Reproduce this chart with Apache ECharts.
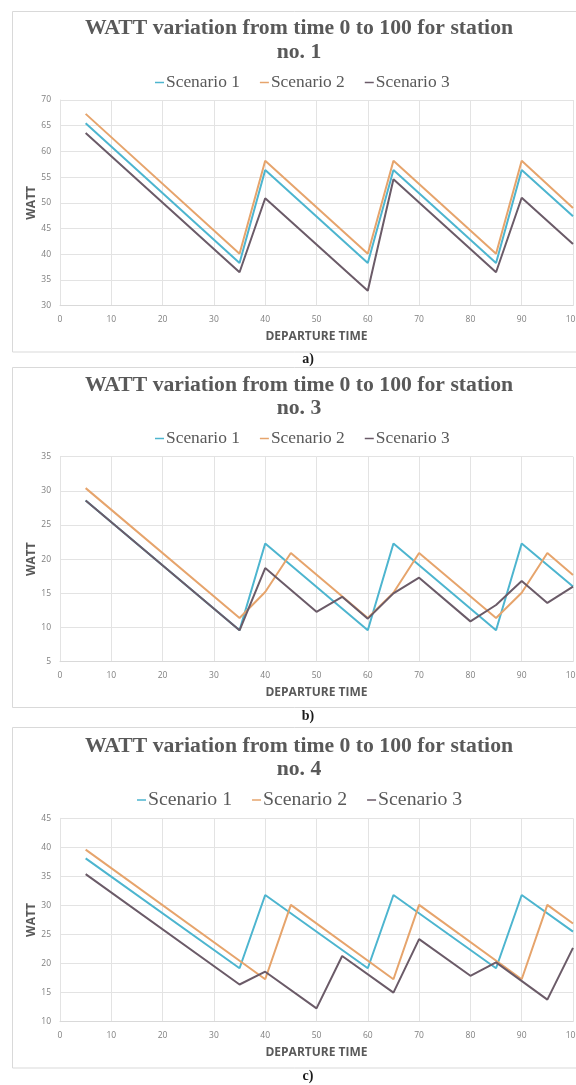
<!DOCTYPE html>
<html>
<head>
<meta charset="utf-8">
<script src="https://cdn.jsdelivr.net/npm/echarts@6/dist/echarts.min.js"></script>
<style>
html,body{margin:0;padding:0;background:#fff;}
#chart{width:576px;height:1085px;}
</style>
</head>
<body>
<div id="chart"></div>
<script>
// ---- Data (vertices of each polyline: departure time, WATT) ----
const seriesNames = ['Scenario 1', 'Scenario 2', 'Scenario 3'];
const panelTitles = ['WATT variation from time 0 to 100 for station', 'WATT variation from time 0 to 100 for station', 'WATT variation from time 0 to 100 for station'];
const panelSubtitles = ['no. 1', 'no. 3', 'no. 4'];
const panelCaptions = ['a)', 'b)', 'c)'];

// Station 1
const a1X = [5, 35, 40, 60, 65, 85, 90, 100];
const a1Y = [65.5, 38.3, 56.4, 38.3, 56.4, 38.3, 56.4, 47.4];
const a2X = [5, 35, 40, 60, 65, 85, 90, 100];
const a2Y = [67.3, 40.1, 58.2, 40.1, 58.2, 40.1, 58.2, 49.0];
const a3X = [5, 35, 40, 60, 65, 85, 90, 100];
const a3Y = [63.6, 36.5, 50.9, 32.9, 54.6, 36.5, 51.0, 42.0];

// Station 3
const b1X = [5, 35, 40, 60, 65, 85, 90, 100];
const b1Y = [28.6, 9.6, 22.3, 9.6, 22.3, 9.6, 22.3, 16.0];
const b2X = [5, 35, 40, 45, 60, 65, 70, 85, 90, 95, 100];
const b2Y = [30.4, 11.4, 15.2, 20.9, 11.4, 15.1, 20.9, 11.4, 15.1, 20.9, 17.7];
const b3X = [5, 35, 40, 50, 55, 60, 65, 70, 80, 85, 90, 95, 100];
const b3Y = [28.6, 9.6, 18.7, 12.3, 14.5, 11.3, 15.0, 17.3, 10.9, 13.3, 16.8, 13.6, 16.0];

// Station 4
const c1X = [5, 35, 40, 60, 65, 85, 90, 100];
const c1Y = [38.1, 19.2, 31.8, 19.2, 31.8, 19.2, 31.8, 25.5];
const c2X = [5, 40, 45, 65, 70, 90, 95, 100];
const c2Y = [39.6, 17.3, 30.1, 17.3, 30.1, 17.3, 30.1, 26.9];
const c3X = [5, 35, 40, 50, 55, 65, 70, 80, 85, 95, 100];
const c3Y = [35.4, 16.4, 18.6, 12.3, 21.3, 15.0, 24.2, 17.9, 20.2, 13.8, 22.7];

// Axis ranges
const xRange = {min: 0, max: 100, interval: 10};
const yRanges = [
  {min: 30, max: 70, interval: 5},
  {min: 5, max: 35, interval: 5},
  {min: 10, max: 45, interval: 5}
];

// ---- Styling / layout ----
const colors = ['#4db5cf', '#e6a46c', '#6b5b68'];
const gridTops = [100, 456.7, 818.3];
const gridHeights = [205.7, 205, 203.4];
const titleY = [[28.5, 52], [385, 408.5], [746, 769.5]];
const legendTops = [69, 425, 785];
const legendFont = [17.4, 17.4, 19.8];
const legendLeft = [150, 150, 132];
const boxes = [[12, 11, 351.5], [12, 367, 707], [12, 727, 1067.5]];
const captionY = [359.5, 716, 1076];

const pairs = (xs, ys) => xs.map((x, i) => [x, ys[i]]);
const panelData = [
  [pairs(a1X, a1Y), pairs(a2X, a2Y), pairs(a3X, a3Y)],
  [pairs(b1X, b1Y), pairs(b2X, b2Y), pairs(b3X, b3Y)],
  [pairs(c1X, c1Y), pairs(c2X, c2Y), pairs(c3X, c3Y)]
];

const gray = '#595959';
const sans = '"Open Sans", "Noto Sans", sans-serif';
const serif = '"Liberation Serif", "DejaVu Serif", serif';

const grids = [], xAxes = [], yAxes = [], series = [], legends = [], graphics = [];
for (let p = 0; p < 3; p++) {
  grids.push({left: 60, right: 3, top: gridTops[p], height: gridHeights[p],
    containLabel: false, outerBoundsMode: 'none'});
  xAxes.push({
    type: 'value', gridIndex: p, min: xRange.min, max: xRange.max, interval: xRange.interval,
    name: 'DEPARTURE TIME', nameLocation: 'middle', nameGap: 25,
    nameTextStyle: {fontFamily: sans, fontWeight: 'bold', fontSize: 12, color: gray},
    axisLine: {show: true, lineStyle: {color: '#d9d9d9', width: 1}},
    axisTick: {show: false},
    axisLabel: {fontFamily: sans, fontSize: 8.5, color: '#7f7f7f', margin: 9},
    splitLine: {show: true, lineStyle: {color: '#e3e3e3', width: 1}}
  });
  yAxes.push({
    type: 'value', gridIndex: p, min: yRanges[p].min, max: yRanges[p].max, interval: yRanges[p].interval,
    name: 'WATT', nameLocation: 'middle', nameGap: 22, nameRotate: 90, nameMoveOverlap: false,
    nameTextStyle: {fontFamily: sans, fontWeight: 'bold', fontSize: 12, color: gray},
    axisLine: {show: true, lineStyle: {color: '#e3e3e3', width: 1}},
    axisTick: {show: false},
    axisLabel: {fontFamily: sans, fontSize: 8.5, color: '#7f7f7f', margin: 9},
    splitLine: {show: true, lineStyle: {color: '#e3e3e3', width: 1}}
  });
  for (let s = 0; s < 3; s++) {
    series.push({
      type: 'line', name: seriesNames[s], xAxisIndex: p, yAxisIndex: p,
      data: panelData[p][s], showSymbol: false, symbol: 'none',
      lineStyle: {color: colors[s], width: 2}, itemStyle: {color: colors[s]},
      z: 2 + s
    });
  }
  legends.push({
    data: seriesNames, top: legendTops[p], left: legendLeft[p],
    icon: 'rect', itemWidth: 9, itemHeight: 1.5, itemGap: 20,
    textStyle: {fontFamily: serif, fontSize: legendFont[p], color: gray, padding: [0, 0, 0, -3]},
    selectedMode: false
  });
  const b = boxes[p];
  graphics.push({type: 'rect', shape: {x: b[0] + 0.5, y: b[1] + 0.5, width: 600, height: b[2] - b[1]},
    style: {fill: 'none', stroke: '#d9d9d9', lineWidth: 1}, z: -1});
  graphics.push({type: 'text', x: 299, y: titleY[p][0],
    style: {text: panelTitles[p], textAlign: 'center', textVerticalAlign: 'middle',
      font: 'bold 21.7px ' + serif, fill: gray}});
  graphics.push({type: 'text', x: 299, y: titleY[p][1],
    style: {text: panelSubtitles[p], textAlign: 'center', textVerticalAlign: 'middle',
      font: 'bold 21.7px ' + serif, fill: gray}});
  graphics.push({type: 'text', x: 308, y: captionY[p],
    style: {text: panelCaptions[p], textAlign: 'center', textVerticalAlign: 'middle',
      font: 'bold 14px ' + serif, fill: '#1a1a1a'}});
}

const chart = echarts.init(document.getElementById('chart'), null, {renderer: 'canvas'});
chart.setOption({
  animation: false,
  backgroundColor: '#ffffff',
  grid: grids, xAxis: xAxes, yAxis: yAxes, series: series, legend: legends,
  graphic: graphics
});
</script>
</body>
</html>
